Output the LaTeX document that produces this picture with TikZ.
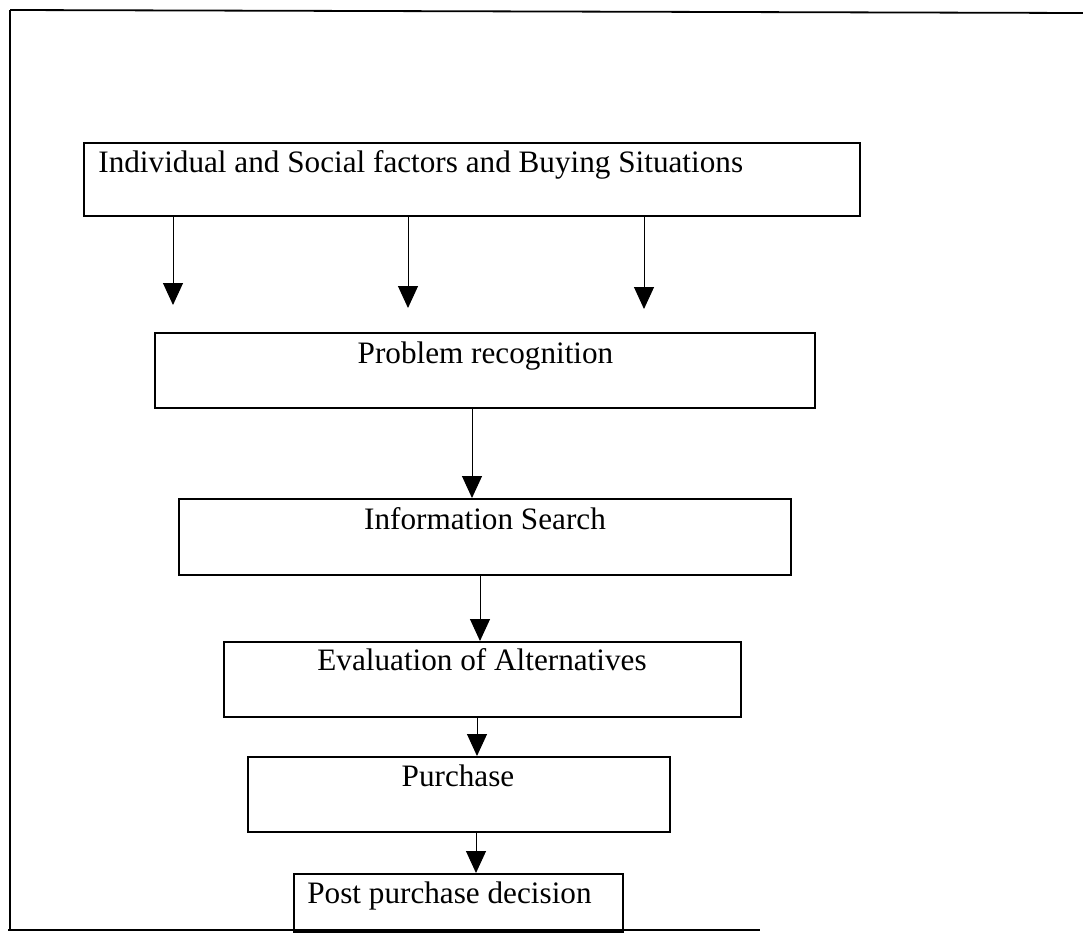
\documentclass[tikz,border=0pt]{standalone}
\usepackage{fontspec}
\setmainfont{Liberation Serif}
\usetikzlibrary{arrows.meta}
\tikzset{
  box/.style={draw, line width=0.9pt, inner sep=0pt, anchor=north west},
  lab/.style={inner sep=0pt, font=\fontsize{15.6}{18}\selectfont},
  flow/.style={line width=0.5pt, -{Triangle[width=10pt,length=11pt]}},
  frame/.style={line width=0.9pt}
}
\begin{document}
\begin{tikzpicture}[x=0.5pt,y=-0.5pt]
\useasboundingbox (0,0) rectangle (1083,937);
% outer frame
\coordinate (ftl) at (10,10);
\coordinate (ftr) at (1083,13);
\coordinate (fbl) at (8,930);
\coordinate (fbr) at (760,930);
\draw[frame] (ftl) -- (ftr);
\draw[frame] (ftl) -- (10,930);
\draw[frame] (fbl) -- (fbr);
% boxes
\node[box, minimum width=388pt, minimum height=36.5pt] (b1) at (83,142) {};
\node[box, minimum width=330pt, minimum height=37.5pt] (b2) at (154,332) {};
\node[box, minimum width=306pt, minimum height=38pt] (b3) at (178,498) {};
\node[box, minimum width=258.5pt, minimum height=37.5pt] (b4) at (223,641) {};
\node[box, minimum width=211pt, minimum height=37.5pt] (b5) at (247,756) {};
\node[box, minimum width=164.5pt, minimum height=29pt] (b6) at (293,873) {};
% labels
\node[lab, anchor=base west] (t1) at (98,172) {Individual and Social factors and Buying Situations};
\node[lab, anchor=base] (t2) at (485.5,363) {Problem recognition};
\node[lab, anchor=base] (t3) at (485,529) {Information Search};
\node[lab, anchor=base] (t4) at (482,670) {Evaluation of Alternatives};
\node[lab, anchor=base] (t5) at (458,786) {Purchase};
\node[lab, anchor=base] (t6) at (449.5,903) {Post purchase decision};
% arrows from top box
\coordinate (e1) at (173,305);
\coordinate (e2) at (408,308);
\coordinate (e3) at (644,309);
\draw[flow] (b1.south -| e1) -- (e1);
\draw[flow] (b1.south -| e2) -- (e2);
\draw[flow] (b1.south -| e3) -- (e3);
% chain arrows
\coordinate (x2) at (472,0);
\coordinate (x3) at (480,0);
\coordinate (x4) at (477,0);
\coordinate (x5) at (476,0);
\draw[flow] (b2.south -| x2) -- (b3.north -| x2);
\draw[flow] (b3.south -| x3) -- (b4.north -| x3);
\draw[flow] (b4.south -| x4) -- (b5.north -| x4);
\draw[flow] (b5.south -| x5) -- (b6.north -| x5);
\end{tikzpicture}
\end{document}
